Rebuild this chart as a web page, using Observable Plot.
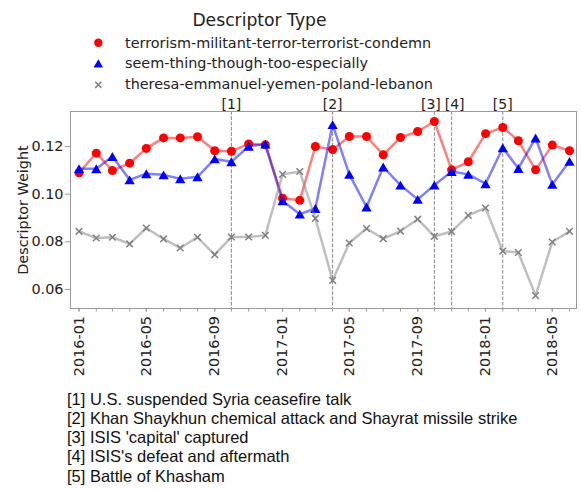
<!DOCTYPE html>
<html>
<head>
<meta charset="utf-8">
<script src="https://cdn.jsdelivr.net/npm/d3@7"></script>
<script src="https://cdn.jsdelivr.net/npm/@observablehq/plot@0.6"></script>
<style>
  html, body { margin: 0; padding: 0; background: white; }
  #wrap { position: relative; width: 581px; height: 490px; overflow: hidden; }
  #wrap svg { display: block; }
</style>
</head>
<body>
<div id="wrap"></div>
<script>
// ---------- data ----------
const months = ["2016-01","2016-02","2016-03","2016-04","2016-05","2016-06","2016-07","2016-08","2016-09","2016-10","2016-11","2016-12",
                "2017-01","2017-02","2017-03","2017-04","2017-05","2017-06","2017-07","2017-08","2017-09","2017-10","2017-11","2017-12",
                "2018-01","2018-02","2018-03","2018-04","2018-05","2018-06"];
const seriesNames = ["terrorism-militant-terror-terrorist-condemn", "seem-thing-though-too-especially", "theresa-emmanuel-yemen-poland-lebanon"];
const terrorismValues = [0.1090,0.1172,0.1099,0.1130,0.1192,0.1236,0.1236,0.1241,0.1182,0.1180,0.1211,0.1207,
                         0.0983,0.0974,0.1200,0.1187,0.1242,0.1242,0.1165,0.1238,0.1263,0.1305,0.1102,0.1136,
                         0.1254,0.1280,0.1224,0.1102,0.1206,0.1182];
const seemValues = [0.1107,0.1107,0.1158,0.1060,0.1086,0.1081,0.1065,0.1073,0.1148,0.1136,0.1201,0.1210,
                    0.0972,0.0916,0.0940,0.1292,0.1083,0.0946,0.1114,0.1038,0.0978,0.1038,0.1095,0.1083,
                    0.1044,0.1195,0.1108,0.1236,0.1041,0.1138];
const theresaValues = [0.0844,0.0816,0.0819,0.0791,0.0858,0.0812,0.0774,0.0819,0.0746,0.0820,0.0820,0.0827,
                       0.1083,0.1095,0.0898,0.0638,0.0795,0.0856,0.0813,0.0845,0.0895,0.0823,0.0843,0.0911,
                       0.0942,0.0761,0.0755,0.0574,0.0799,0.0844];
const eventLabels = ["[1]","[2]","[3]","[4]","[5]"];
const eventMonths = ["2016-10","2017-04","2017-10","2017-11","2018-02"];
const eventTexts = ["U.S. suspended Syria ceasefire talk",
                    "Khan Shaykhun chemical attack and Shayrat missile strike",
                    "ISIS 'capital' captured",
                    "ISIS's defeat and aftermath",
                    "Battle of Khasham"];
const xTickLabels = ["2016-01","2016-05","2016-09","2017-01","2017-05","2017-09","2018-01","2018-05"];
const yTicks = [0.06, 0.08, 0.10, 0.12];
const yLabel = "Descriptor Weight";
const legendTitle = "Descriptor Type";

// ---------- build ----------
const parse = s => new Date(s + "-01T00:00:00Z");
const toRows = vals => vals.map((v, i) => ({date: parse(months[i]), value: v}));
const redRows = toRows(terrorismValues);
const blueRows = toRows(seemValues);
const grayRows = toRows(theresaValues);
const events = eventLabels.map((l, i) => ({label: l, date: parse(eventMonths[i])}));
const monthDates = months.map(parse);
const majorDates = xTickLabels.map(parse);

const wrap = document.getElementById("wrap");
const FONT = "'DejaVu Sans', sans-serif";

// legend (above)
const leg = d3.create("svg").attr("width", 581).attr("height", 95);
leg.append("text").attr("x", 259.5).attr("y", 25.8).attr("text-anchor", "middle")
  .attr("font-family", FONT).attr("font-size", 17.2).attr("fill", "#222").text(legendTitle);
const legY = [42.7, 63.5, 84.8];
const legBase = [47.5, 68.3, 89.3];
const legSym = [
  {type: d3.symbolCircle, size: Math.PI * 4.2 * 4.2, fill: "red", stroke: "none", dy: 0},
  {type: d3.symbolTriangle, size: Math.PI * 3.5 * 3.5, fill: "blue", stroke: "none", dy: 1.3},
  {type: d3.symbolTimes, size: Math.PI * 2.9 * 2.9, fill: "none", stroke: "gray", dy: 0}
];
seriesNames.forEach((name, i) => {
  const s = legSym[i];
  leg.append("path").attr("d", d3.symbol(s.type, s.size)())
    .attr("transform", `translate(98.3,${legY[i] + s.dy})`)
    .attr("fill", s.fill).attr("stroke", s.stroke).attr("stroke-width", 1.5);
  leg.append("text").attr("x", 125).attr("y", legBase[i])
    .attr("font-family", FONT).attr("font-size", 14.4).attr("fill", "#222").text(name);
});
wrap.appendChild(leg.node());

// event labels: [3] and [4] are nudged apart so they sit side by side
const evText = (filter, dx) => Plot.text(events, {filter, x: "date", text: "label", frameAnchor: "top",
  lineAnchor: "bottom", dy: -3, dx, fill: "#222", fontSize: 14});

// chart
const chart = Plot.plot({
  width: 581,
  height: 295,
  marginTop: 16,
  marginLeft: 70,
  marginRight: 5,
  marginBottom: 82,
  style: {fontFamily: FONT, fontSize: "14.4px", background: "white", overflow: "visible"},
  x: {type: "utc", domain: [new Date("2015-12-16T16:00:00Z"), new Date("2018-06-13T14:00:00Z")], label: null},
  y: {domain: [0.0520, 0.1347], label: null},
  marks: [
    Plot.ruleX(events, {x: "date", stroke: "#888", strokeWidth: 1, strokeDasharray: "3.7,1.6"}),
    Plot.line(redRows, {x: "date", y: "value", stroke: "red", strokeOpacity: 0.5, strokeWidth: 2.5}),
    Plot.dot(redRows, {x: "date", y: "value", symbol: "circle", fill: "red", r: 4.5}),
    Plot.line(blueRows, {x: "date", y: "value", stroke: "blue", strokeOpacity: 0.5, strokeWidth: 2.5}),
    Plot.dot(blueRows, {x: "date", y: "value", symbol: "triangle", fill: "blue", r: 3.8, dy: 1.5}),
    Plot.line(grayRows, {x: "date", y: "value", stroke: "gray", strokeOpacity: 0.5, strokeWidth: 2.5}),
    Plot.dot(grayRows, {x: "date", y: "value", symbol: "times", stroke: "gray", r: 3.1, strokeWidth: 1.5}),
    Plot.frame({stroke: "#999"}),
    Plot.axisY({ticks: yTicks, tickFormat: d3.format(".2f"), tickSize: 5, tickPadding: 2, stroke: "#999", fill: "#222", label: null}),
    Plot.axisX({ticks: monthDates, tickSize: 3.5, stroke: "#999", fill: "none", label: null}),
    Plot.axisX({ticks: majorDates, tickFormat: d3.utcFormat("%Y-%m"), tickRotate: -90, tickSize: 3.5, tickPadding: 4,
                stroke: "#999", fill: "#222", label: null}),
    evText(d => d.label !== "[3]" && d.label !== "[4]", 0),
    evText(d => d.label === "[3]", -3.5),
    evText(d => d.label === "[4]", 3),
    Plot.text([yLabel], {frameAnchor: "left", dx: -47.5, rotate: -90, textAnchor: "middle", lineAnchor: "middle", fill: "#222"})
  ]
});
wrap.appendChild(chart);

// footnotes (below)
const foot = d3.create("svg").attr("width", 581).attr("height", 100);
eventLabels.forEach((l, i) => {
  foot.append("text").attr("x", 67).attr("y", 14.5 + 19.3 * i)
    .attr("font-family", "'Liberation Sans', Arial, sans-serif").attr("font-size", 16.5).attr("fill", "#111")
    .text(l + " " + eventTexts[i]);
});
wrap.appendChild(foot.node());
</script>
</body>
</html>
